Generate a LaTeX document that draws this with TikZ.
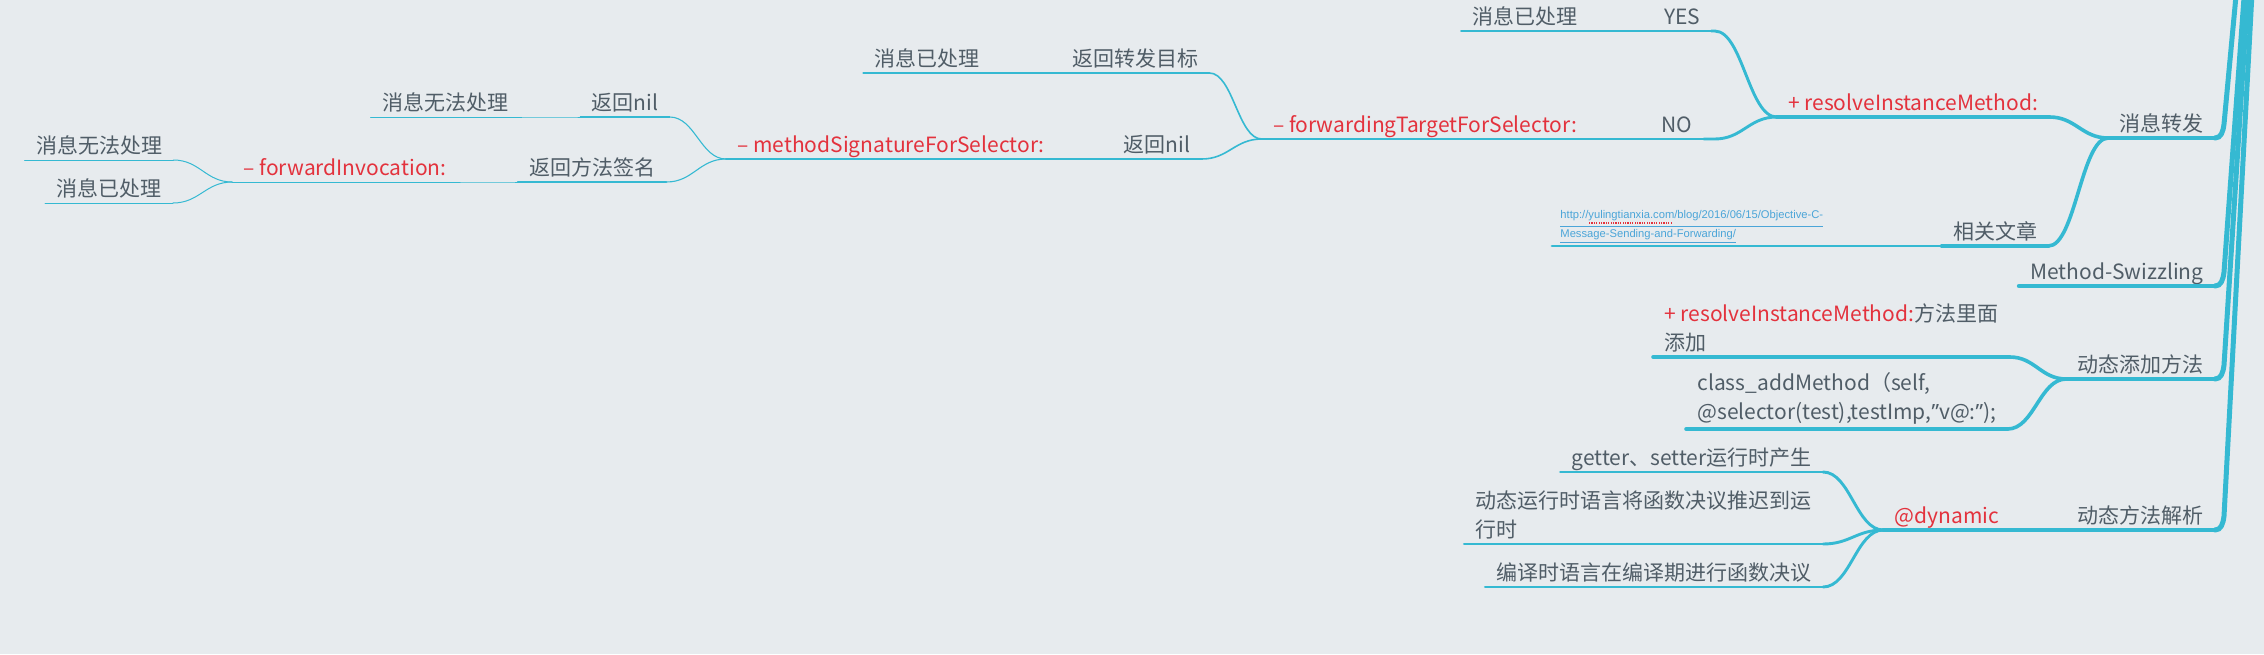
\documentclass[tikz,border=0pt]{standalone}
\usepackage{fontspec}
\setmainfont{Noto Sans CJK SC}
\newfontfamily\latinfont{Noto Sans}
\newfontfamily\urlfont{Liberation Sans}
\usetikzlibrary{calc}

\definecolor{paper}{HTML}{E7EBEE}
\definecolor{branch}{HTML}{35B9D2}
\definecolor{ink}{HTML}{505D67}
\definecolor{hot}{HTML}{E3323D}
\definecolor{weblink}{HTML}{4BA5D8}

% child -> parent connector (S-curve into the parent's left end)
\newcommand\joint[3][]{%
  \draw[#1] let \p1=(#2.south east), \p2=(#3.south west),
    \n1={min(\x2-\x1,31)} in
    (\p1) -- (\x2-\n1*1pt,\y1)
    .. controls (\x2-0.55*\n1*1pt,\y1) and (\x2-0.45*\n1*1pt,\y2) .. (\p2);}
% underline of a topic
\newcommand\under[2][]{\draw[#1] (#2.south west) -- (#2.south east);}
% narrow quote mark
\newcommand\narrowq{{\latinfont ”}}
% red dotted spell mark under a word
\newsavebox\spellbox
\newcommand\spellmark[1]{\sbox\spellbox{#1}%
  \rlap{\raisebox{-2.4pt}{\color{hot}\hbox to \wd\spellbox{%
    \leaders\hbox to 1.2pt{\hss\rule{0.6pt}{0.6pt}\hss}\hfill}}}%
  \usebox\spellbox}

\begin{document}
\begin{tikzpicture}[x=0.5pt, y=-0.5pt,
    every node/.style={font=\fontsize{10.5pt}{14.5pt}\selectfont, text=ink},
    topic/.style={anchor=south, inner xsep=5.5pt, inner ysep=0pt, text depth=3.2pt},
    multi/.style={inner xsep=5.5pt, inner ysep=2pt, align=left},
    wire/.style={draw=branch, line cap=round},
    trunk/.style={wire, line width=2.5pt},
    w1/.style={wire, line width=2.2pt},
    w2/.style={wire, line width=1.8pt},
    w3/.style={wire, line width=1.45pt},
    w4/.style={wire, line width=1.1pt},
    w5/.style={wire, line width=0.8pt},
    w6/.style={wire, line width=0.65pt},
    w7/.style={wire, line width=0.55pt},
    w8/.style={wire, line width=0.5pt}]

    % Canvas
    \useasboundingbox (0,0) rectangle (2264,654);
    \fill[paper] (0,0) rectangle (2264,654);
    \clip (0,0) rectangle (2264,654);
    \coordinate (root) at (2273,-400);

    % Main branches
    \node[topic, anchor=south east] (zf) at (2215,138) {消息转发};
    \node[topic, anchor=south east] (ms) at (2215,286) {Method-Swizzling};
    \node[topic, anchor=south east] (tjff) at (2215,379) {动态添加方法};
    \node[topic, anchor=south east] (ffjx) at (2215,530) {动态方法解析};

    % 消息转发
    \node[topic, text=hot] (rim) at (1913,117) {+ resolveInstanceMethod:};
    \node[topic] (yes) at (1682,31) {YES};
    \node[topic] (yesA) at (1525,31) {消息已处理};
    \node[topic] (no) at (1677,139) {NO};
    \node[topic, text=hot] (ftfs) at (1425,139) {– forwardingTargetForSelector:};
    \node[topic] (fhzf) at (1135,73) {返回转发目标};
    \node[topic] (yclA) at (927,73) {消息已处理};
    \node[topic] (nilA) at (1157,159) {返回nil};
    \node[topic, text=hot] (msfs) at (891,159) {– methodSignatureForSelector:};
    \node[topic] (nilB) at (625,117) {返回nil};
    \node[topic] (wfclA) at (445,117) {消息无法处理};
    \node[topic] (fhqm) at (592,182) {返回方法签名};
    \node[topic, text=hot] (fwi) at (345,182) {– forwardInvocation:};
    \node[topic] (wfclB) at (99,160) {消息无法处理};
    \node[topic] (yclB) at (109,203) {消息已处理};

    % 相关文章
    \node[topic] (xgwz) at (1995,246) {相关文章};
    \node[multi, anchor=south west, inner xsep=4pt, inner ysep=0.8pt, text=weblink,
      font=\urlfont\fontsize{5.6pt}{7pt}\selectfont] (url) at (1552,246)
      {\underline{http://\spellmark{yulingtianxia.com}/blog/2016/06/15/Objective-C-}\\
       \underline{Message-Sending-and-Forwarding/}};

    % 动态添加方法
    \node[multi, anchor=south west] (addA) at (1653,357)
      {{\color{hot}+ resolveInstanceMethod:}方法里面\\添加};
    \node[multi, anchor=south west] (addB) at (1686,429)
      {class\_addMethod（self,\\@selector(test),testImp,\narrowq v@:\narrowq);};

    % 动态方法解析
    \node[topic, text=hot] (dyn) at (1947,530) {@dynamic};
    \node[topic, anchor=south east] (gs) at (1823,472) {getter、setter运行时产生};
    \node[multi, anchor=south east] (dtyx) at (1823,544)
      {动态运行时语言将函数决议推迟到运\\行时};
    \node[topic, anchor=south east] (byy) at (1823,587) {编译时语言在编译期进行函数决议};

    % Underlines
    \foreach \n in {zf,ms,tjff,ffjx} {\under[w1]{\n}}
    \foreach \n in {rim,xgwz,addA,addB,dyn} {\under[w2]{\n}}
    \foreach \n in {yes,no,url,gs,dtyx,byy} {\under[w3]{\n}}
    \foreach \n in {yesA,ftfs} {\under[w4]{\n}}
    \foreach \n in {fhzf,nilA} {\under[w5]{\n}}
    \foreach \n in {yclA,msfs} {\under[w6]{\n}}
    \foreach \n in {nilB,fhqm} {\under[w7]{\n}}
    \foreach \n in {wfclA,fwi,wfclB,yclB} {\under[w8]{\n}}

    % Trunk
    \foreach \n in {zf,ms,tjff,ffjx}
      {\draw[trunk] (\n.south east) .. controls +(6,0) and +(-1,8) .. ++(9,-14) -- (root);}

    % Connectors
    \joint[w2]{rim}{zf}
    \joint[w2]{xgwz}{zf}
    \joint[w3]{yes}{rim}
    \joint[w3]{no}{rim}
    \joint[w4]{yesA}{yes}
    \joint[w4]{ftfs}{no}
    \joint[w5]{fhzf}{ftfs}
    \joint[w5]{nilA}{ftfs}
    \joint[w6]{yclA}{fhzf}
    \joint[w6]{msfs}{nilA}
    \joint[w7]{nilB}{msfs}
    \joint[w7]{fhqm}{msfs}
    \joint[w8]{wfclA}{nilB}
    \joint[w8]{fwi}{fhqm}
    \joint[w8]{wfclB}{fwi}
    \joint[w8]{yclB}{fwi}
    \joint[w3]{url}{xgwz}
    \joint[w2]{addA}{tjff}
    \joint[w2]{addB}{tjff}
    \joint[w2]{dyn}{ffjx}
    \joint[w3]{gs}{dyn}
    \joint[w3]{dtyx}{dyn}
    \joint[w3]{byy}{dyn}
\end{tikzpicture}
\end{document}
